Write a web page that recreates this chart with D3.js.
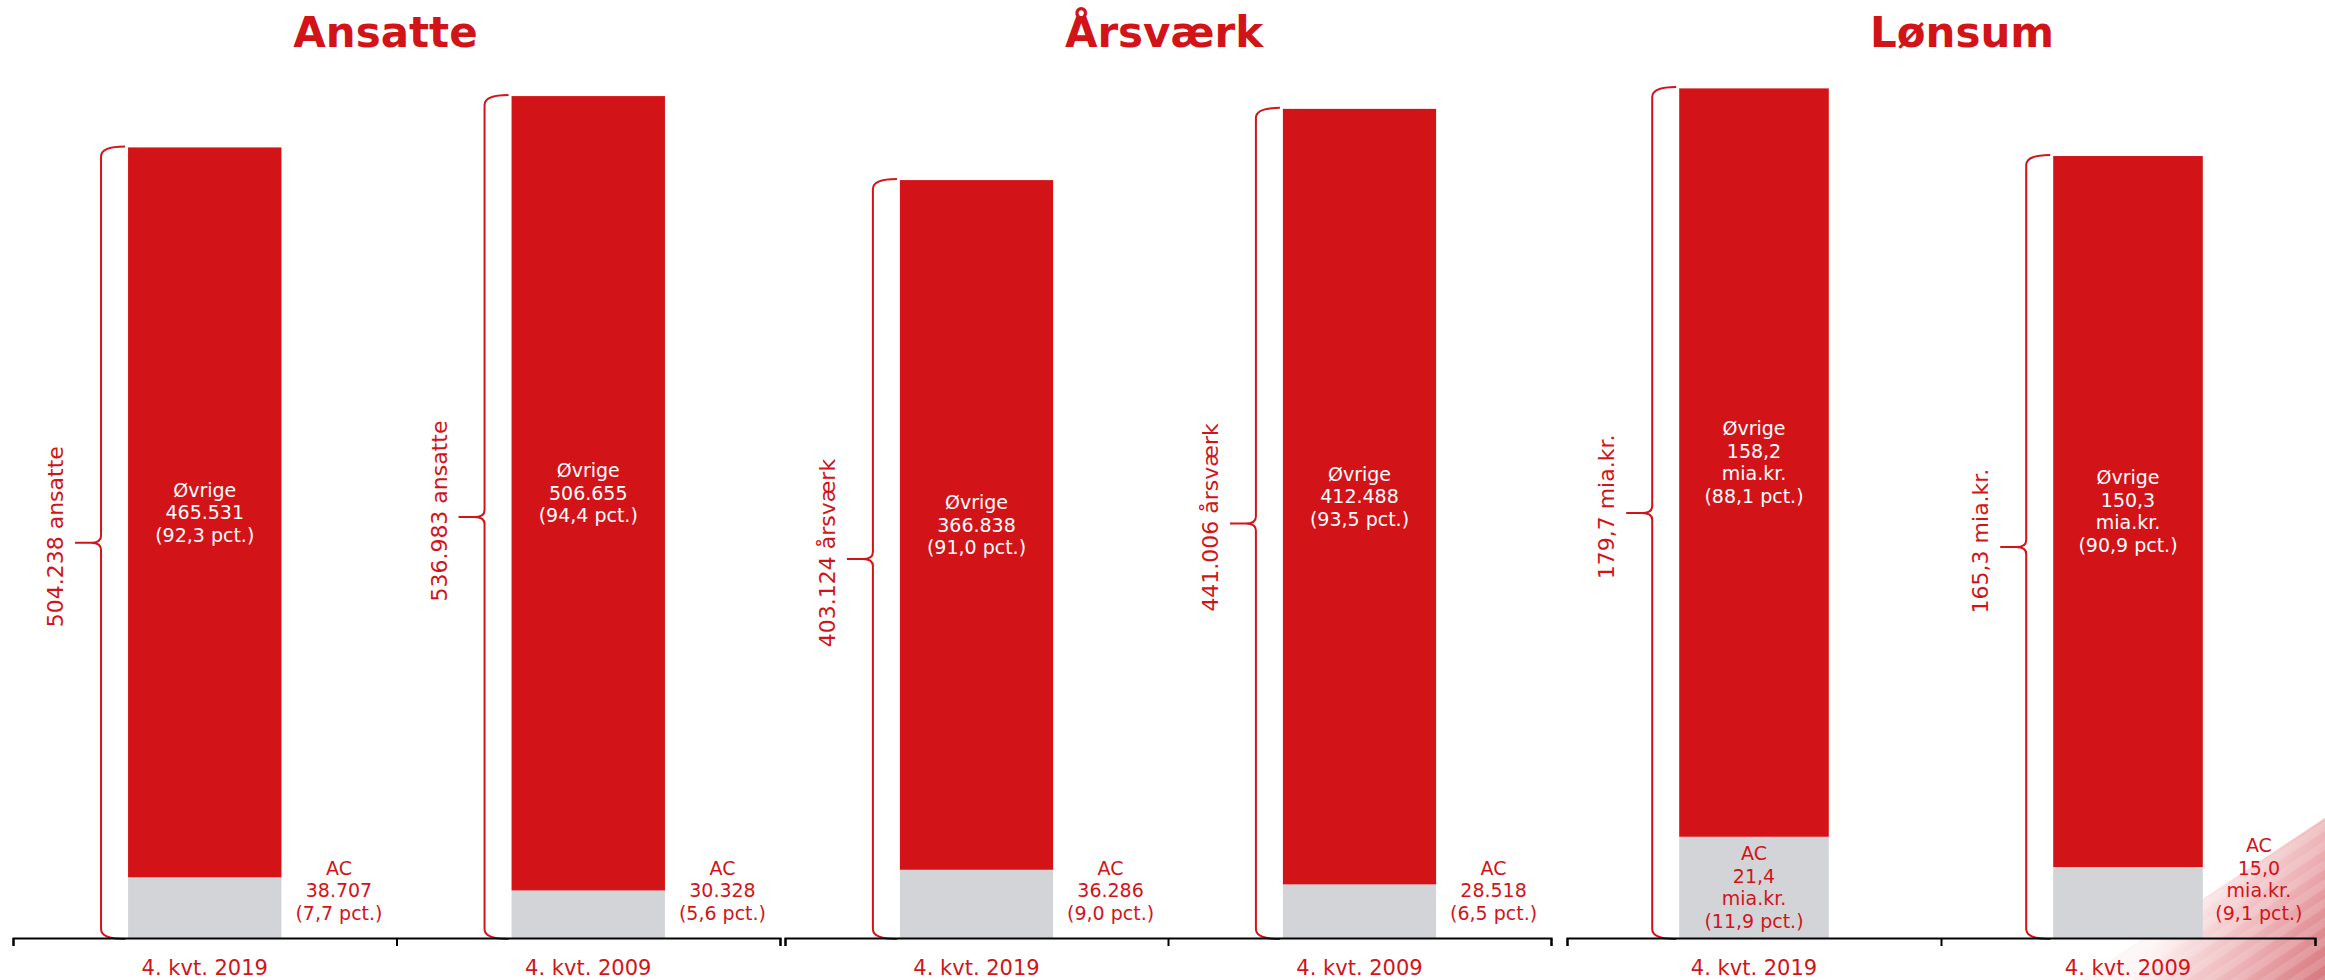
<!DOCTYPE html>
<html>
<head>
<meta charset="utf-8">
<script src="https://cdn.jsdelivr.net/npm/d3@7"></script>
<style>
    body { margin: 0; background: #ffffff; }
    svg text { font-family: "DejaVu Sans", Verdana, sans-serif; }
    .axis-line path, .axis-line line { stroke: #000000; stroke-width: 2; }
    .cat-axis path { display: none; }
    .cat-axis text { font-size: 21px; fill: #d21418; }
</style>
</head>
<body>
<svg id="chart"></svg>
<script>
/* =========================================================
   Data
   ========================================================= */

const PANELS      = ["Ansatte", "Årsværk", "Lønsum"];
const CATEGORIES  = ["4. kvt. 2019", "4. kvt. 2009"];
const TOTAL_UNITS = ["ansatte", "årsværk", "mia.kr."];

const AC_VALUES      = [[38707, 30328], [36286, 28518], [21.4, 15.0]];
const OVRIGE_VALUES  = [[465531, 506655], [366838, 412488], [158.2, 150.3]];
const TOTAL_VALUES   = [[504238, 536983], [403124, 441006], [179.7, 165.3]];
const AC_PCT         = [[7.7, 5.6], [9.0, 6.5], [11.9, 9.1]];
const OVRIGE_PCT     = [[92.3, 94.4], [91.0, 93.5], [88.1, 90.9]];

// each panel has its own value axis (hidden)
const Y_MAX = [560000, 467000, 185.6];

/* =========================================================
   Layout
   ========================================================= */

const W = 2325, H = 980;
const BASE_Y = 938;
const PLOT_TOP = 60;
const PANEL_X = [[13, 780], [785, 1551], [1567, 2315]];
const TITLE_SHIFT = [-11, -4, 21];

const RED  = "#d21418";
const GRAY = "#d3d4d8";
const LINE_H = 22.5;

const da = d3.formatLocale({ decimal: ",", thousands: ".", grouping: [3], currency: ["", " kr."] });
const fmtInt = da.format(",d");
const fmtDec = da.format(",.1f");
const fmtPct = v => `(${da.format(".1f")(v)} pct.)`;

const svg = d3.select("#chart").attr("width", W).attr("height", H);

/* =========================================================
   Corner decoration (bottom right)
   ========================================================= */

const defs = svg.append("defs");
const grad = defs.append("linearGradient")
    .attr("id", "cornerGrad")
    .attr("gradientUnits", "userSpaceOnUse")
    .attr("x1", 2190).attr("y1", 890)
    .attr("x2", 2325).attr("y2", 980);
grad.append("stop").attr("offset", 0).attr("stop-color", "#d21418").attr("stop-opacity", 0.04);
grad.append("stop").attr("offset", 0.5).attr("stop-color", "#cc2a34").attr("stop-opacity", 0.35);
grad.append("stop").attr("offset", 1).attr("stop-color", "#c4434b").attr("stop-opacity", 0.72);

const stripes = defs.append("pattern")
    .attr("id", "cornerStripes")
    .attr("patternUnits", "userSpaceOnUse")
    .attr("width", 40).attr("height", 16)
    .attr("patternTransform", "rotate(-33.5)");
stripes.append("rect")
    .attr("width", 40).attr("height", 8)
    .attr("fill", "#ffffff").attr("opacity", 0.14);

const corner = [[2080, 980], [2325, 818], [2325, 980]];
svg.append("polygon").attr("points", corner.join(" ")).attr("fill", "url(#cornerGrad)");
svg.append("polygon").attr("points", corner.join(" ")).attr("fill", "url(#cornerStripes)");

/* =========================================================
   Helpers
   ========================================================= */

function bracePath(X, yt, yb, bx) {
    const mid = (yt + yb) / 2;
    return `M${bx - 3},${yt - 1} Q${X},${yt - 1} ${X},${yt + 9}` +
           ` L${X},${mid - 7} Q${X},${mid} ${X - 10},${mid} L${X - 26},${mid}` +
           ` M${X - 10},${mid} Q${X},${mid} ${X},${mid + 7}` +
           ` L${X},${yb - 9} Q${X},${yb + 1} ${bx - 3},${yb + 1}`;
}

function textBlock(g, lines, x, cy, color) {
    const n = lines.length;
    const t = g.append("text")
        .attr("text-anchor", "middle")
        .attr("font-size", 19)
        .attr("fill", color);
    lines.forEach((s, i) => {
        t.append("tspan")
            .attr("x", x)
            .attr("y", cy + (i - (n - 1) / 2) * LINE_H)
            .attr("dy", "0.35em")
            .text(s);
    });
}

/* =========================================================
   Panels
   ========================================================= */

PANELS.forEach((title, p) => {
    const g = svg.append("g");
    const fmt = p === 2 ? fmtDec : fmtInt;
    const unitLine = p === 2 ? ["mia.kr."] : [];

    const x = d3.scaleBand()
        .domain(CATEGORIES)
        .range(PANEL_X[p])
        .paddingInner(0.6)
        .paddingOuter(0.3);

    const y = d3.scaleLinear()
        .domain([0, Y_MAX[p]])
        .range([BASE_Y, PLOT_TOP]);

    // title
    g.append("text")
        .attr("x", (PANEL_X[p][0] + PANEL_X[p][1]) / 2 + TITLE_SHIFT[p])
        .attr("y", 47)
        .attr("text-anchor", "middle")
        .attr("font-size", 42)
        .attr("font-weight", 700)
        .attr("fill", RED)
        .text(title);

    CATEGORIES.forEach((cat, i) => {
        const bx = x(cat);
        const bw = x.bandwidth();
        const ac = AC_VALUES[p][i];
        const ov = OVRIGE_VALUES[p][i];
        const yAc = y(ac);
        const yTop = y(ac + ov);

        // stacked segments
        g.append("rect")
            .attr("x", bx).attr("y", yAc)
            .attr("width", bw).attr("height", BASE_Y - yAc)
            .attr("fill", GRAY);
        g.append("rect")
            .attr("x", bx).attr("y", yTop)
            .attr("width", bw).attr("height", yAc - yTop)
            .attr("fill", RED);

        // Øvrige label inside red segment
        textBlock(g,
            ["Øvrige", fmt(ov), ...unitLine, fmtPct(OVRIGE_PCT[p][i])],
            bx + bw / 2, (yTop + yAc) / 2, "#ffffff");

        // AC label: inside grey if there is room, otherwise beside the bar
        const acLines = ["AC", fmt(ac), ...unitLine, fmtPct(AC_PCT[p][i])];
        const segH = BASE_Y - yAc;
        if (segH >= acLines.length * LINE_H + 8) {
            textBlock(g, acLines, bx + bw / 2, (yAc + BASE_Y) / 2, RED);
        } else {
            const bandEnd = x.step() * (i + 1) + PANEL_X[p][0];
            const cx = (bx + bw + bandEnd) / 2;
            const cy = 920 - 6.7 - (acLines.length - 1) / 2 * LINE_H;
            textBlock(g, acLines, cx, cy, RED);
        }

        // brace with total
        const yTot = y(TOTAL_VALUES[p][i]);
        const X = bx - 27;
        g.append("path")
            .attr("d", bracePath(X, yTot, BASE_Y, bx))
            .attr("fill", "none")
            .attr("stroke", RED)
            .attr("stroke-width", 2);

        const mid = (yTot + BASE_Y) / 2;
        g.append("text")
            .attr("transform", `translate(${X - 38},${mid - 6}) rotate(-90)`)
            .attr("text-anchor", "middle")
            .attr("font-size", 22)
            .attr("fill", RED)
            .text(`${fmt(TOTAL_VALUES[p][i])} ${TOTAL_UNITS[p]}`);
    });

    // category axis: ticks between categories
    const xb = d3.scaleLinear().domain([0, 2]).range(PANEL_X[p]);
    g.append("g")
        .attr("class", "axis-line")
        .attr("transform", `translate(0,${BASE_Y})`)
        .call(d3.axisBottom(xb).tickValues([0, 1, 2]).tickFormat("").tickSize(8).tickSizeOuter(8));

    g.append("g")
        .attr("class", "cat-axis")
        .attr("transform", `translate(0,${BASE_Y})`)
        .call(d3.axisBottom(x).tickSize(0).tickPadding(22))
        .selectAll("text")
        .attr("font-family", "DejaVu Sans, Verdana, sans-serif");
});
</script>
</body>
</html>
